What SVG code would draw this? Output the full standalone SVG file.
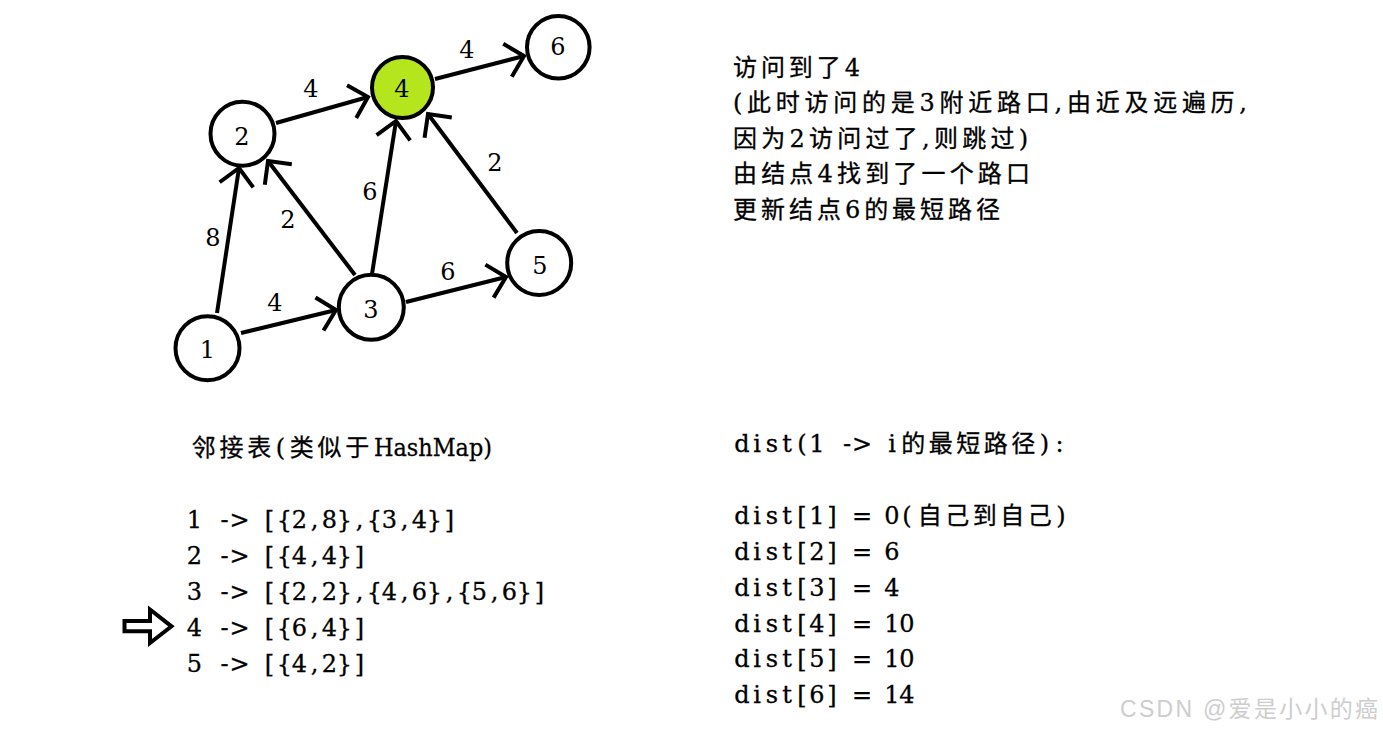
<svg xmlns="http://www.w3.org/2000/svg" width="1383" height="732" viewBox="0 0 1383 732">
<style>
.node circle{fill:#fff;stroke:#000;stroke-width:4}
.node.cur circle{fill:#b5e61d}
.lbl{font-family:"DejaVu Serif","Noto Sans CJK SC",serif;font-size:24px;fill:#000;text-anchor:middle}
.edge{stroke:#000;stroke-width:4;fill:none;marker-end:url(#ah)}
.t{font-family:"DejaVu Serif","Noto Sans CJK SC",serif;font-size:24px;fill:#000;stroke:#000;stroke-width:0.3}
.m{text-anchor:middle}
.wm{font-family:"Liberation Sans","Noto Sans CJK SC",sans-serif;font-size:23px;fill:#cdcdcd}
</style>
<defs>
<marker id="ah" markerUnits="userSpaceOnUse" markerWidth="40" markerHeight="40" viewBox="-20 -20 40 40" refX="0" refY="0" orient="auto" overflow="visible">
<path d="M-17,-17 L0,0 L-17,17" fill="none" stroke="#000" stroke-width="4" stroke-linejoin="miter"/>
</marker>
</defs>
<rect width="1383" height="732" fill="#fff"/>

<g id="connectors">
<line class="edge" x1="217" y1="313" x2="239" y2="168"/>
<line class="edge" x1="241" y1="333" x2="336" y2="310"/>
<line class="edge" x1="276" y1="123" x2="368" y2="97"/>
<line class="edge" x1="355" y1="275" x2="268" y2="161"/>
<line class="edge" x1="372" y1="274" x2="396" y2="121"/>
<line class="edge" x1="517" y1="233" x2="428" y2="114"/>
<line class="edge" x1="406" y1="302" x2="506" y2="277"/>
<line class="edge" x1="435" y1="79" x2="524" y2="56"/>
<text class="lbl" x="311" y="97">4</text>
<text class="lbl" x="467" y="58">4</text>
<text class="lbl" x="213" y="246">8</text>
<text class="lbl" x="288" y="228">2</text>
<text class="lbl" x="370" y="200">6</text>
<text class="lbl" x="495" y="171">2</text>
<text class="lbl" x="448" y="280">6</text>
<text class="lbl" x="275" y="311">4</text>
</g>

<g id="node1" class="node"><circle cx="207.5" cy="348.3" r="32"/><text class="lbl" x="207.5" y="358">1</text></g>
<g id="node2" class="node"><circle cx="242.5" cy="133.7" r="32"/><text class="lbl" x="242" y="145">2</text></g>
<g id="node3" class="node"><circle cx="371.3" cy="307.3" r="32.5"/><text class="lbl" x="371" y="318">3</text></g>
<g id="node4" class="node cur"><circle cx="402.5" cy="87.5" r="30.5"/><text class="lbl" x="402" y="97">4</text></g>
<g id="node5" class="node"><circle cx="539.2" cy="263" r="32"/><text class="lbl" x="540" y="274">5</text></g>
<g id="node6" class="node"><circle cx="558.3" cy="47.2" r="31.3"/><text class="lbl" x="558" y="55">6</text></g>

<g id="note">
<text class="t" x="733" y="76" textLength="127" lengthAdjust="spacing">访问到了4</text>
<text class="t" x="733" y="111" textLength="514" lengthAdjust="spacing">(此时访问的是3附近路口,由近及远遍历,</text>
<text class="t" x="733" y="147" textLength="295" lengthAdjust="spacing">因为2访问过了,则跳过)</text>
<text class="t" x="733" y="182" textLength="297" lengthAdjust="spacing">由结点4找到了一个路口</text>
<text class="t" x="733" y="218" textLength="267" lengthAdjust="spacing">更新结点6的最短路径</text>
</g>

<g id="adjacency">
<text class="t m" y="456" x="203.8 231.5 259.2 280.5 301.8 329.5 357.2">邻接表(类似于</text>
<text class="t" y="456" x="374" textLength="118" lengthAdjust="spacingAndGlyphs">HashMap)</text>
<text class="t m" y="528" x="194.5 209.5 224.5 239.5 254.5 269.5 284.5 299.5 314.5 329.5 344.5 359.5 374.5 389.5 404.5 419.5 434.5 449.5">1 -&gt; [{2,8},{3,4}]</text>
<text class="t m" y="564" x="194.5 209.5 224.5 239.5 254.5 269.5 284.5 299.5 314.5 329.5 344.5 359.5">2 -&gt; [{4,4}]</text>
<text class="t m" y="600" x="194.5 209.5 224.5 239.5 254.5 269.5 284.5 299.5 314.5 329.5 344.5 359.5 374.5 389.5 404.5 419.5 434.5 449.5 464.5 479.5 494.5 509.5 524.5 539.5">3 -&gt; [{2,2},{4,6},{5,6}]</text>
<text class="t m" y="636" x="194.5 209.5 224.5 239.5 254.5 269.5 284.5 299.5 314.5 329.5 344.5 359.5">4 -&gt; [{6,4}]</text>
<text class="t m" y="672" x="194.5 209.5 224.5 239.5 254.5 269.5 284.5 299.5 314.5 329.5 344.5 359.5">5 -&gt; [{4,2}]</text>
<polygon id="pointer" points="124.5,621 150,621 150,609.5 171.5,626.3 150,643 150,631.3 124.5,631.3" fill="#fff" stroke="#000" stroke-width="4" stroke-linejoin="miter"/>
</g>

<g id="dist">
<text class="t m" y="452" x="742 757 772 787 802 817 832 847 862 877 892 913.25 940.75 968.25 995.75 1023.25 1044.5 1059.5">dist(1 -&gt; i的最短路径):</text>
<text class="t m" y="524" x="742 757 772 787 802 817 832 847 862 877 892 907 929.75 957.25 984.75 1012.25 1039.75 1061">dist[1] = 0(自己到自己)</text>
<text class="t m" y="560" x="742 757 772 787 802 817 832 847 862 877 892">dist[2] = 6</text>
<text class="t m" y="596" x="742 757 772 787 802 817 832 847 862 877 892">dist[3] = 4</text>
<text class="t m" y="632" x="742 757 772 787 802 817 832 847 862 877 892 907">dist[4] = 10</text>
<text class="t m" y="667" x="742 757 772 787 802 817 832 847 862 877 892 907">dist[5] = 10</text>
<text class="t m" y="703" x="742 757 772 787 802 817 832 847 862 877 892 907">dist[6] = 14</text>
</g>

<text class="wm" x="1120" y="717" textLength="258" lengthAdjust="spacing">CSDN @爱是小小的癌</text>
</svg>
